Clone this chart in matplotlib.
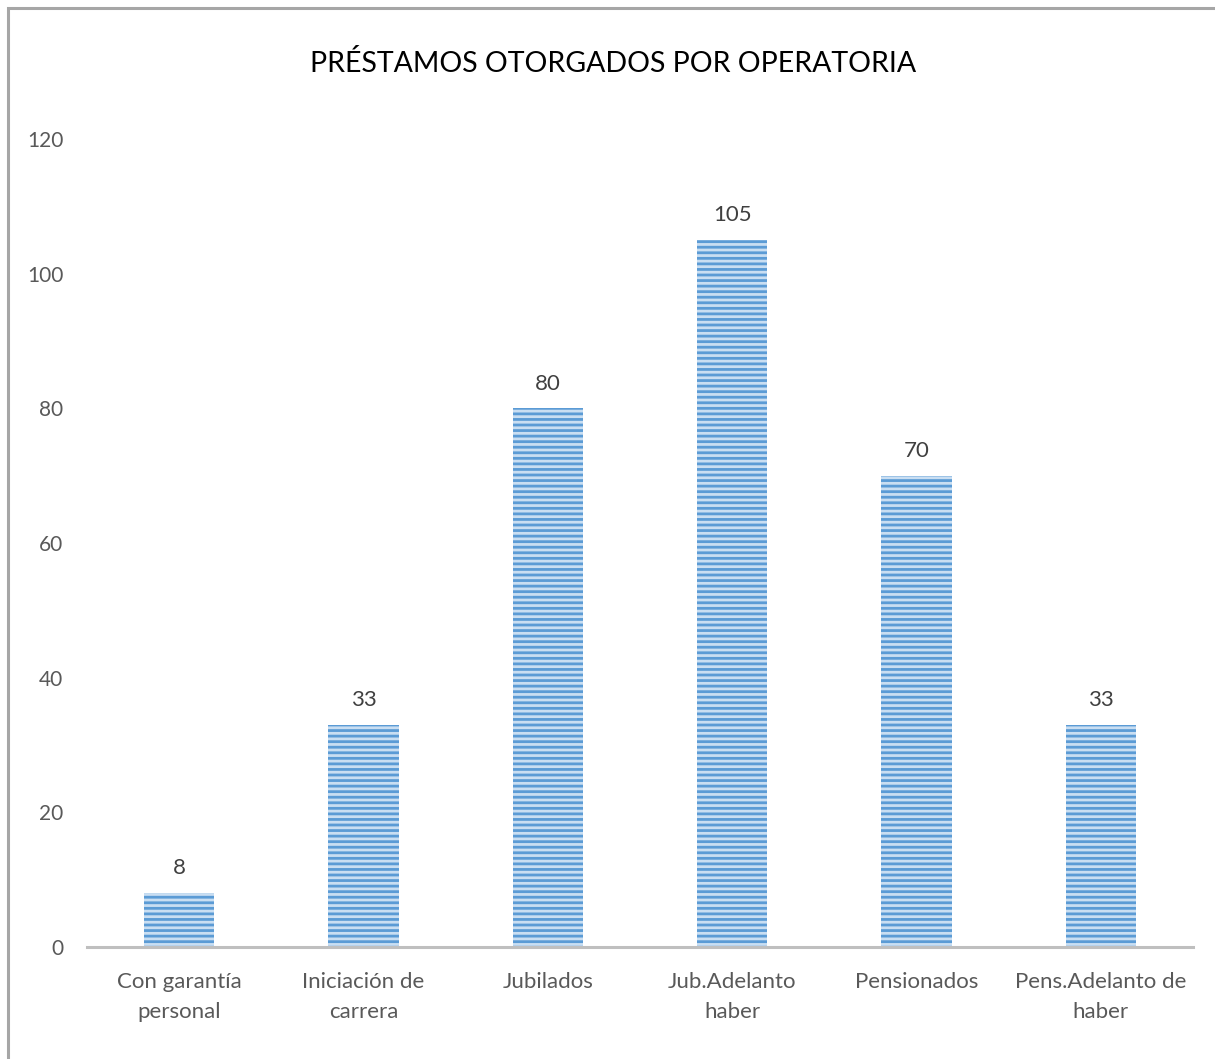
import matplotlib.pyplot as plt
import matplotlib.patches as mpatches

plt.rcParams['font.family'] = ['Lato', 'DejaVu Sans']
plt.rcParams['hatch.linewidth'] = 2.0

# data
categorias = ["Con garantía\npersonal", "Iniciación de\ncarrera", "Jubilados",
              "Jub.Adelanto\nhaber", "Pensionados", "Pens.Adelanto de\nhaber"]
prestamos = [8, 33, 80, 105, 70, 33]
yticks = [0, 20, 40, 60, 80, 100, 120]

W, H = 1215, 1059
fig = plt.figure(figsize=(W / 100, H / 100), dpi=100)

# outer frame of the chart area (cut off at right/bottom)
frame = mpatches.Rectangle((8 / W, -0.05), 1.2, (H - 8) / H + 0.05,
                           transform=fig.transFigure, fill=False,
                           edgecolor='#a6a6a6', linewidth=2.2)
fig.patches.append(frame)

ax = fig.add_axes([87 / W, 112 / H, (1193 - 87) / W, (947 - 139) / H])

x = range(len(categorias))
bars = ax.bar(x, prestamos, width=0.38, color='#c9def2', edgecolor='#5b9bd5',
              linewidth=0, hatch='---', zorder=2)

for xi, v in zip(x, prestamos):
    ax.text(xi, v + 2.2, str(v), ha='center', va='bottom',
            fontsize=16, color='#404040')

ax.set_xlim(-0.5, len(categorias) - 0.5)
ax.set_ylim(0, 120)
ax.set_yticks(yticks)
ax.set_yticklabels([str(t) for t in yticks], fontsize=15, color='#595959')
ax.set_xticks(list(x))
ax.set_xticklabels(categorias, fontsize=16, color='#595959', linespacing=1.6)
ax.tick_params(axis='y', length=0, pad=17)
ax.tick_params(axis='x', length=0, pad=18)

for s in ['top', 'right', 'left']:
    ax.spines[s].set_visible(False)
ax.spines['bottom'].set_color('#bfbfbf')
ax.spines['bottom'].set_linewidth(2.2)

fig.text(613 / W, 1 - 63 / H, "PRÉSTAMOS OTORGADOS POR OPERATORIA",
         ha='center', va='center', fontsize=20.5, color='#000000')

fig.savefig('out.png', dpi=100)
